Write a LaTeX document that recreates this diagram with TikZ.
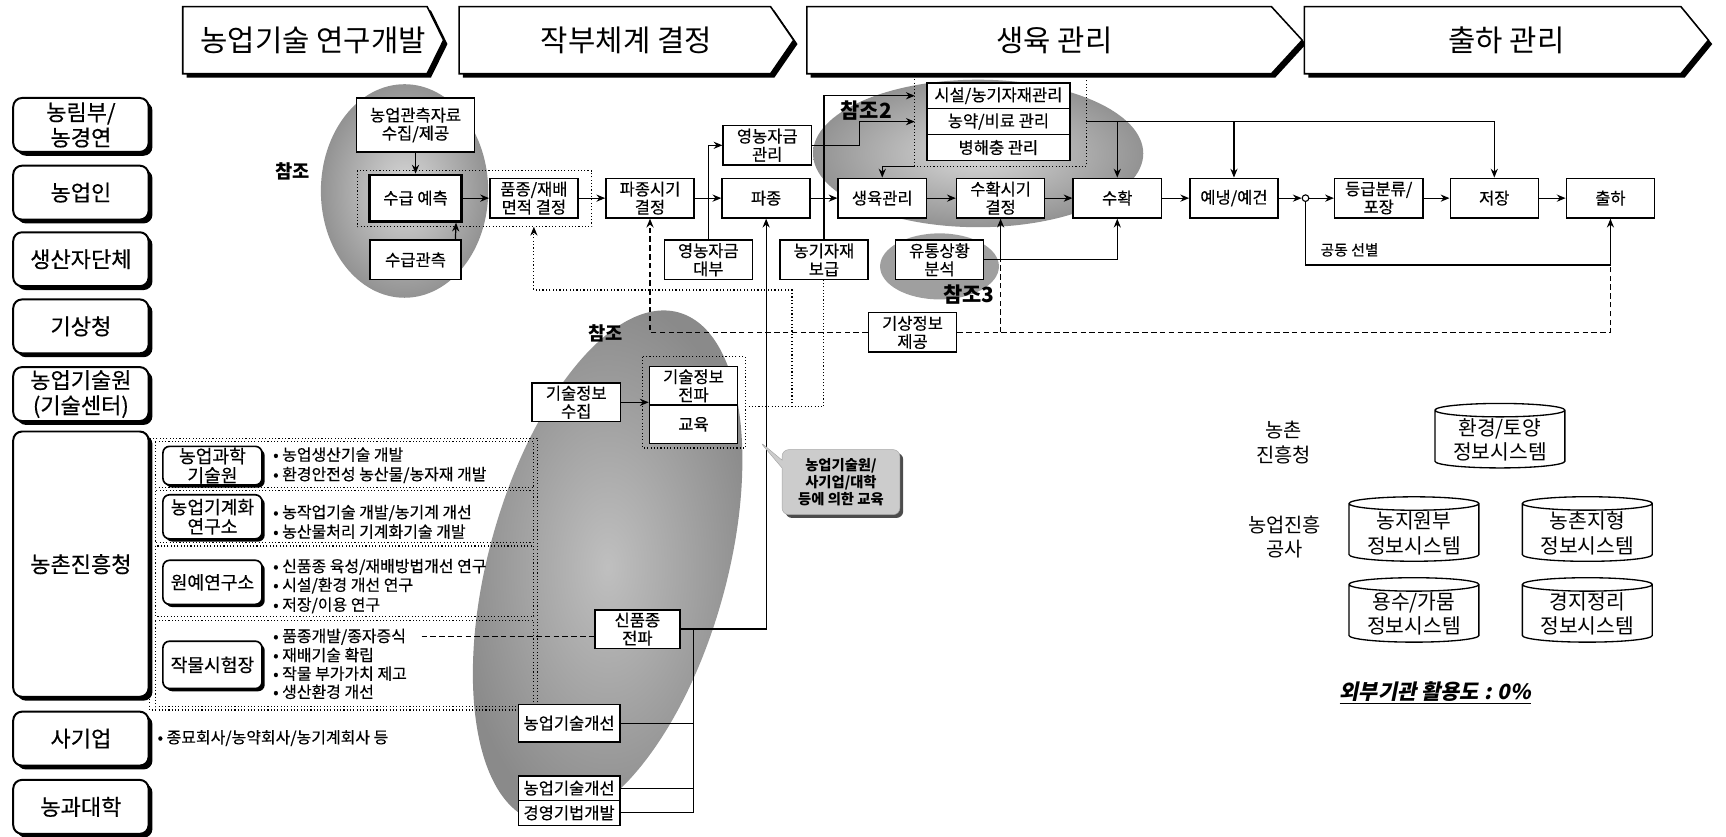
\documentclass[tikz,border=0pt]{standalone}
\usepackage{fontspec}
\setmainfont{Noto Sans CJK KR}
\newfontfamily\slantkr{Noto Sans CJK KR}[FakeSlant=0.2]
\newfontfamily\medkr{Noto Sans CJK KR}[FakeBold=0.4]
\usetikzlibrary{arrows.meta,shapes.geometric,shapes.callouts,shadows}

\tikzset{
  flowbox/.style={draw,line width=1.4pt,fill=white,align=center,inner sep=0.5pt,
    minimum width=80pt,minimum height=36pt,font=\medkr\fontsize{15}{16.5}\selectfont},
  orgbox/.style={draw,line width=1.8pt,rounded corners=8pt,fill=white,align=center,
    minimum width=123pt,minimum height=49pt,inner sep=1pt,font=\medkr\fontsize{20}{23}\selectfont,
    general shadow={fill=black,shadow xshift=3.5pt,shadow yshift=-3.5pt}},
  unitbox/.style={draw,line width=1.5pt,rounded corners=6pt,fill=white,align=center,
    minimum width=90pt,inner sep=0.5pt,font=\medkr\fontsize{16.5}{17.5}\selectfont,
    general shadow={fill=black,shadow xshift=2.5pt,shadow yshift=-2.5pt}},
  bullettext/.style={anchor=west,inner sep=0pt,font=\medkr\fontsize{14.5}{16}\selectfont},
  dbase/.style={draw,line width=1.2pt,cylinder,shape border rotate=90,aspect=0.14,
    minimum width=118pt,minimum height=57pt,align=center,inner sep=1pt,
    font=\fontsize{18.5}{22}\selectfont},
  reflabel/.style={font=\bfseries\fontsize{17}{20}\selectfont,inner sep=0pt},
  arr/.style={-{Stealth[length=8pt,width=6.5pt]},line width=1.1pt},
  dotline/.style={dotted,line width=1pt},
  dashline/.style={dash pattern=on 5pt off 3pt,line width=1.1pt},
}

\begin{document}
\begin{tikzpicture}[x=1pt,y=-1pt]
  \useasboundingbox (0,0) rectangle (1568,760);
  % Shaded reference areas
  \shade[inner color=gray!30,outer color=gray!85] (367.5,173.5) ellipse [x radius=76,y radius=97];
  \shade[inner color=gray!30,outer color=gray!85] (888.6,139.4) ellipse [x radius=150,y radius=67];
  \fill[gray!75] (853.5,242) ellipse [x radius=54,y radius=30];
  \shade[inner color=gray!50,outer color=gray!92,rotate around={-15.6:(552,515)}]
    (552,515) ellipse [x radius=108,y radius=240];

  % Stages
  \foreach \xa/\xb/\xt/\hn/\lbl in {166/388/403/stg1/농업기술 연구개발,
      417/700/721/stg2/작부체계 결정, 733/1155/1183/stg3/생육 관리,
      1185/1527/1552/stg4/출하 관리}{
    \fill (\xa+3.5,9.5) -- (\xb+3.5,9.5) -- (\xt+3.5,40) -- (\xb+3.5,70.5) -- (\xa+3.5,70.5) -- cycle;
    \draw[line width=1.4pt,fill=white] (\xa,6) -- (\xb,6) -- (\xt,36.5) -- (\xb,67) -- (\xa,67) -- cycle;
    \node[font=\fontsize{27}{30}\selectfont] (\hn) at ({(\xa+\xt)/2},36.5) {\lbl};
  }

  % Organisations
  \node[orgbox] (maf) at (73.5,113.5) {농림부/\\농경연};
  \node[orgbox] (farmer) at (73.5,175) {농업인};
  \node[orgbox] (prod) at (73.5,235.5) {생산자단체};
  \node[orgbox] (kma) at (73.5,296.5) {기상청};
  \node[orgbox] (ata) at (73.5,358) {농업기술원\\(기술센터)};
  \node[orgbox,minimum height=241pt] (rda) at (73.5,512.5) {농촌진흥청};
  \node[orgbox] (firm) at (73.5,671) {사기업};
  \node[orgbox] (univ) at (73.5,733) {농과대학};

  % Institutes
  \draw[dotline] (136,398) rectangle (488,645);
  \foreach \ya/\yb in {401/443,446/493,496/560,564/642}
    \draw[dotline] (141,\ya) rectangle (485,\yb);
  \node[unitbox,minimum height=35pt] (nias) at (193,423) {농업과학\\기술원};
  \node[unitbox,minimum height=40pt] (niae) at (193,469.5) {농업기계화\\연구소};
  \node[unitbox,minimum height=40pt] (nhri) at (193,529) {원예연구소};
  \node[unitbox,minimum height=43pt] (ncss) at (193,604) {작물시험장};
  \node[bullettext] (b11) at (248,413) {• 농업생산기술 개발};
  \node[bullettext] (b12) at (248,431.5) {• 환경안전성 농산물/농자재 개발};
  \node[bullettext] (b21) at (248,466) {• 농작업기술 개발/농기계 개선};
  \node[bullettext] (b22) at (248,483) {• 농산물처리 기계화기술 개발};
  \node[bullettext] (b31) at (248,515) {• 신품종 육성/재배방법개선 연구};
  \node[bullettext] (b32) at (248,532) {• 시설/환경 개선 연구};
  \node[bullettext] (b33) at (248,550) {• 저장/이용 연구};
  \node[bullettext] (b41) at (248,578.5) {• 품종개발/종자증식};
  \node[bullettext] (b42) at (248,595) {• 재배기술 확립};
  \node[bullettext] (b43) at (248,612) {• 작물 부가가치 제고};
  \node[bullettext] (b44) at (248,628.5) {• 생산환경 개선};
  \node[bullettext] (b51) at (143,670.5) {• 종묘회사/농약회사/농기계회사 등};

  % Dotted frames
  \draw[dotline] (324.5,155) rectangle (537.6,206);
  \draw[dotline] (584,324) rectangle (677,407);

  % Flow
  \node[flowbox,minimum width=107pt,minimum height=49pt] (obs) at (377.5,113.5) {농업관측자료\\수집/제공};
  \node[flowbox,line width=2.6pt,minimum width=83pt,minimum height=42pt] (fc) at (377.5,180) {수급 예측};
  \node[flowbox,minimum width=83pt] (ob2) at (377.5,236) {수급관측};
  \node[flowbox] (pj) at (485,180) {품종/재배\\면적 결정};
  \node[flowbox] (ps) at (590.5,180) {파종시기\\결정};
  \node[flowbox] (pz) at (696,180) {파종};
  \node[flowbox] (fm) at (697,132) {영농자금\\관리};
  \node[flowbox] (fl) at (643.5,236) {영농자금\\대부};
  \node[flowbox] (ms) at (748.5,236) {농기자재\\보급};
  \node[flowbox] (gm) at (801.5,180) {생육관리};
  \node[flowbox,minimum width=130pt,minimum height=23.5pt] (fac) at (907,87) {시설/농기자재관리};
  \node[flowbox,minimum width=130pt,minimum height=23.5pt] (pes) at (907,110.5) {농약/비료 관리};
  \node[flowbox,minimum width=130pt,minimum height=23.5pt] (dis) at (907,134) {병해충 관리};
  \node[flowbox] (ht) at (909,180) {수확시기\\결정};
  \node[flowbox] (hv) at (1015,180) {수확};
  \node[flowbox] (pc) at (1121,180) {예냉/예건};
  \node[draw,circle,line width=1pt,fill=white,inner sep=0pt,minimum size=6pt] (jn) at (1186,180) {};
  \node[flowbox] (gr) at (1252.5,180) {등급분류/\\포장};
  \node[flowbox] (st) at (1357.5,180) {저장};
  \node[flowbox] (sh) at (1463,180) {출하};
  \node[flowbox] (da) at (853.5,236) {유통상황\\분석};
  \node[flowbox] (wi) at (829,302) {기상정보\\제공};
  \node[flowbox,minimum height=35pt] (tc) at (523.5,365.5) {기술정보\\수집};
  \node[flowbox,minimum height=35pt] (td) at (630,350.5) {기술정보\\전파};
  \node[flowbox,minimum height=35pt] (ed) at (630,385.5) {교육};
  \node[flowbox,minimum width=77pt,minimum height=35pt] (nv) at (579,571.5) {신품종\\전파};
  \node[flowbox,minimum width=92pt,minimum height=34pt] (ti1) at (517,657) {농업기술개선};
  \node[flowbox,minimum width=92pt,minimum height=22.5pt] (ti2) at (517,716) {농업기술개선};
  \node[flowbox,minimum width=92pt,minimum height=22.5pt] (mg) at (517,738.5) {경영기법개발};

  % References
  \node[reflabel] (ref1) at (266,156) {참조};
  \node[reflabel,font=\bfseries\fontsize{19}{22}\selectfont] (ref2) at (787,100) {참조2};
  \node[reflabel,font=\bfseries\fontsize{19}{22}\selectfont] (ref3) at (880,268) {참조3};
  \node[reflabel] (ref4) at (550,303) {참조};

  % Main connectors
  \draw[arr] (obs) -- (fc);
  \draw[arr] ([xshift=-6pt]ob2.north east) -- ([xshift=-6pt]fc.south east);
  \draw[arr] (fc) -- (pj);
  \draw[arr] (pj) -- (ps);
  \draw[arr] (ps) -- (pz);
  \draw[arr] (fl.north) |- (fm.west);
  \draw[arr] (pz) -- (gm);
  \draw[arr] (gm) -- (ht);
  \draw[arr] (ht) -- (hv);
  \draw[arr] (hv) -- (pc);
  \draw[arr] (pc) -- (jn);
  \draw[arr] (jn) -- (gr);
  \draw[arr] (gr) -- (st);
  \draw[arr] (st) -- (sh);

  % Growth management group
  \coordinate (gtl) at (831,72);
  \coordinate (gbl) at (831,151);
  \coordinate (gbr) at (987,151);
  \coordinate (gtr) at (987,72);
  \draw[dotline] (gtl) -- (gbl) -- (gbr) -- (gtr);
  \draw[arr] (ms.north) |- (gtl |- fac.west);
  \draw[arr] (fm.east) -- ++(43,0) |- (gtl |- pes.west);
  \draw[arr] (gbl) -| (gm.north);
  \draw[arr] (gtr |- pes.east) -| (st.north);
  \draw[arr] (hv.north |- pes.east) -- (hv.north);
  \draw[arr] (pc.north |- pes.east) -- (pc.north);

  % Distribution and weather
  \coordinate (sel) at (1463,240.7);
  \draw[arr] (jn.south) |- (sel) -- (sh.south);
  \node[font=\medkr\fontsize{13.5}{15}\selectfont] (joint) at (1226,227) {공동 선별};
  \draw[arr] (da.east) -| (hv.south);
  \draw[arr] (da.east -| ht.south) -- (ht.south);
  \draw[dashline] (wi.east) -| (sel);
  \draw[dashline] (wi.east -| ht.south) -- (da.east -| ht.south);
  \draw[dashline,arr] (wi.west) -| (ps.south);

  % Technology feedback
  \coordinate (edr) at (677,369.5);
  \coordinate (fb) at (719.5,369.5);
  \coordinate (fbt) at (719.5,263.5);
  \coordinate (pjb) at (485,206);
  \draw[dotline] (edr) -| (ms.south);
  \draw[dotline,arr] (fb) -- (fbt) -| (pjb);
  \draw[arr] (tc.east) -- (tc.east -| td.west);
  \draw[arr] (nv.east) -| (pz.south);
  \coordinate (tv) at (629.6,571.5);
  \draw[line width=1pt] (ti1.east) -| (tv);
  \draw[line width=1pt] (ti2.east) -| (tv);
  \draw[line width=1pt] (mg.east) -| (tv);
  \draw[dashline] ([xshift=14pt]b41.east) -- (b41.east -| nv.west);

  % Education note
  \node[rectangle callout,draw=gray!70,fill=gray!40,rounded corners=6pt,
    minimum width=107pt,minimum height=59pt,align=center,
    font=\bfseries\fontsize{13}{15.5}\selectfont,
    callout absolute pointer={(690,401)},
    general shadow={fill=gray!60!black,shadow xshift=3pt,shadow yshift=-3pt}]
    (edu) at (764,438) {농업기술원/\\사기업/대학\\등에 의한 교육};

  % Information systems
  \node[font=\fontsize{18}{22}\selectfont,align=center] (rdalab) at (1166,402) {농촌\\진흥청};
  \node[font=\fontsize{18}{22}\selectfont,align=center] (krclab) at (1167,487.5) {농업진흥\\공사};
  \node[dbase] (soil) at (1362.6,399.7) {환경/토양\\정보시스템};
  \node[dbase] (land) at (1284.5,484.5) {농지원부\\정보시스템};
  \node[dbase] (topo) at (1442,484.5) {농촌지형\\정보시스템};
  \node[dbase] (water) at (1284.5,558) {용수/가뭄\\정보시스템};
  \node[dbase] (plot) at (1442,558) {경지정리\\정보시스템};
  \node[font=\slantkr\bfseries\fontsize{19}{22}\selectfont] (ratio) at (1304,629.6) {\underline{외부기관 활용도 : 0\%}};
\end{tikzpicture}
\end{document}
